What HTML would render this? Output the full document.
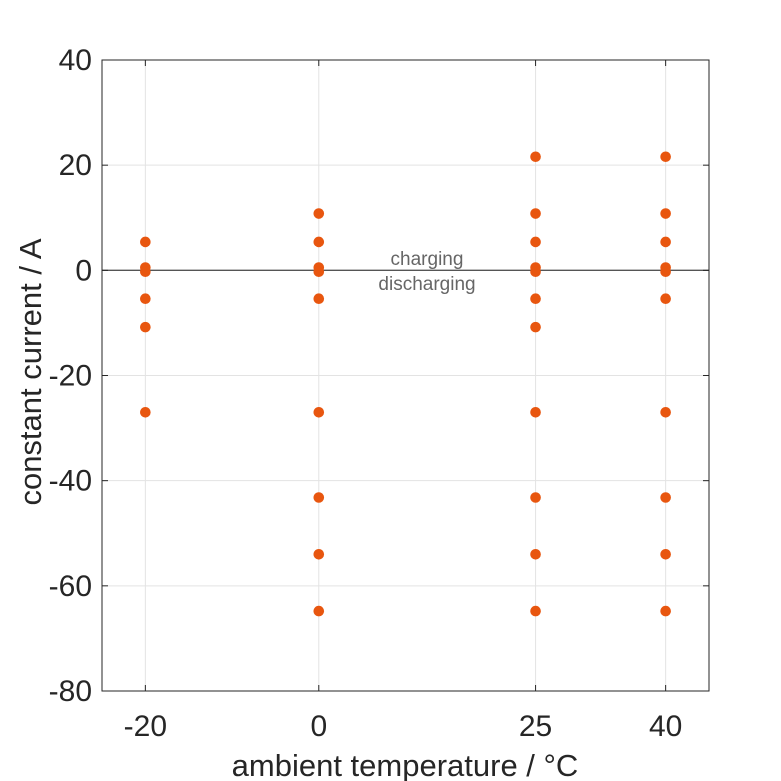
<!DOCTYPE html>
<html><head><meta charset="utf-8"><style>
html,body{margin:0;padding:0;background:#fff;}
svg{display:block;font-family:"Liberation Sans",Arial,sans-serif;}
</style></head><body>
<svg id="chart" width="781" height="781" viewBox="0 0 781 781">
<rect width="781" height="781" fill="#fff"/>
<g id="grid"></g>
<line id="zero" stroke="#555" stroke-width="1.3"/>
<g id="pts"></g>
<rect x="102" y="60" width="607" height="631" fill="none" stroke="#262626" stroke-width="1"/>
<g id="ticks"></g>
<text x="427" y="265" font-size="19" fill="#666" text-anchor="middle">charging</text>
<text x="427" y="290" font-size="19" fill="#666" text-anchor="middle">discharging</text>
<text x="405" y="776" font-size="31" fill="#262626" text-anchor="middle">ambient temperature / °C</text>
<text transform="translate(41,372) rotate(-90)" font-size="31" fill="#262626" text-anchor="middle">constant current / A</text>
</svg>
<script>
const xTicks = [-20, 0, 25, 40];
const yTicks = [40, 20, 0, -20, -40, -60, -80];
const tempsA = [-20, -20, -20, -20, -20, -20];
const currA = [5.4, 0.54, -0.27, -5.4, -10.8, -27];
const tempsB = [0, 0, 0, 0, 0, 0, 0, 0, 0];
const currB = [10.8, 5.4, 0.54, -0.27, -5.4, -27, -43.2, -54, -64.8];
const tempsC = [25, 25, 25, 25, 25, 25, 25, 25, 25, 25, 25];
const currC = [21.6, 10.8, 5.4, 0.54, -0.27, -5.4, -10.8, -27, -43.2, -54, -64.8];
const tempsD = [40, 40, 40, 40, 40, 40, 40, 40, 40, 40];
const currD = [21.6, 10.8, 5.4, 0.54, -0.27, -5.4, -27, -43.2, -54, -64.8];

const X0=102,X1=709,Y0=60,Y1=691,xMin=-25,xMax=45,yMin=-80,yMax=40;
const sx=v=>X0+(v-xMin)/(xMax-xMin)*(X1-X0);
const sy=v=>Y1-(v-yMin)/(yMax-yMin)*(Y1-Y0);
const NS="http://www.w3.org/2000/svg";
function mk(tag,attrs,parent){const e=document.createElementNS(NS,tag);for(const k in attrs)e.setAttribute(k,attrs[k]);parent.appendChild(e);return e;}
const grid=document.getElementById('grid'),ticks=document.getElementById('ticks'),pts=document.getElementById('pts');
xTicks.forEach(t=>{
  const x=sx(t);
  const g=mk('line',{x1:x,x2:x,y1:Y0,y2:Y1,stroke:'#e3e3e3','stroke-width':1},grid);
  
  
  const tk=mk('line',{x1:x,x2:x,y1:Y1,y2:Y1-6,stroke:'#262626'},ticks);
  
  
  const tk2=mk('line',{x1:x,x2:x,y1:Y0,y2:Y0+6,stroke:'#262626'},ticks);
  
  
  const l=mk('text',{x:x,y:736,'font-size':30,fill:'#262626','text-anchor':'middle'},ticks);
  l.textContent=t;
  
  
});
yTicks.forEach(t=>{
  const y=sy(t);
  const g=mk('line',{x1:X0,x2:X1,y1:y,y2:y,stroke:'#e3e3e3','stroke-width':1},grid);
  
  
  const tk=mk('line',{x1:X0,x2:X0+6,y1:y,y2:y,stroke:'#262626'},ticks);
  
  
  const tk2=mk('line',{x1:X1,x2:X1-6,y1:y,y2:y,stroke:'#262626'},ticks);
  
  
  const l=mk('text',{x:92,y:y+10,'font-size':30,fill:'#262626','text-anchor':'end'},ticks);
  l.textContent=t;
  
  
});
const z=document.getElementById('zero');
z.setAttribute('x1',X0);z.setAttribute('x2',X1);z.setAttribute('y1',sy(0));z.setAttribute('y2',sy(0));
[[tempsA,currA],[tempsB,currB],[tempsC,currC],[tempsD,currD]].forEach(([ts,cs])=>{
  ts.forEach((t,i)=>{
    const c=mk('circle',{cx:sx(t),cy:sy(cs[i]),r:5.3,fill:'#e8560f'},pts);
    
    
  });
});
</script>
</body></html>
